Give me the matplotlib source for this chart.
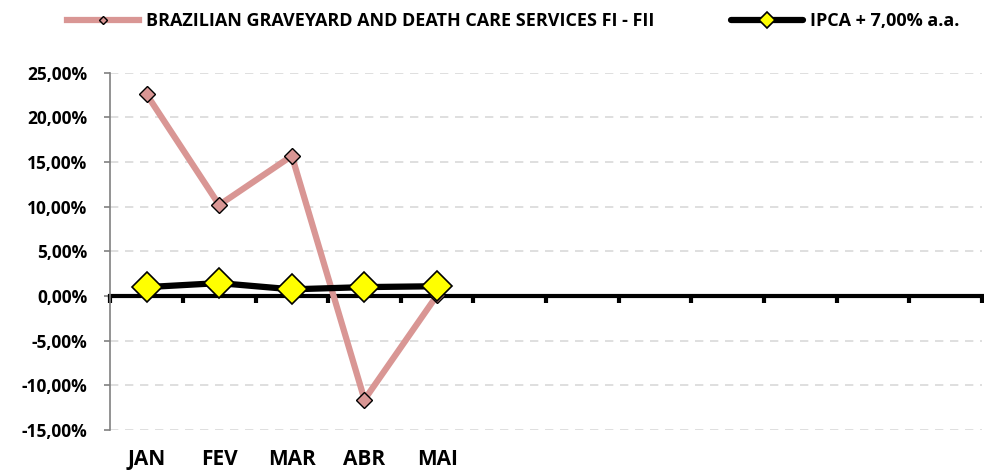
import numpy as np
import matplotlib.pyplot as plt
from matplotlib.ticker import FuncFormatter

plt.rcParams['font.family'] = ['Open Sans', 'DejaVu Sans']
plt.rcParams['font.weight'] = 'bold'

# data
months = ['JAN', 'FEV', 'MAR', 'ABR', 'MAI', '', '', '', '', '', '', '']
fund_name = 'BRAZILIAN GRAVEYARD AND DEATH CARE SERVICES FI - FII'
fund = [22.6, 10.2, 15.7, -11.6, 0.1]
bench_name = 'IPCA + 7,00% a.a.'
bench = [1.0, 1.45, 0.75, 1.0, 1.1]
yticks = [-15, -10, -5, 0, 5, 10, 15, 20, 25]

fig = plt.figure(figsize=(9.84, 4.73), dpi=100)
ax = fig.add_axes([0.112, 0.091, 0.886, 0.755])

x = np.arange(len(fund))
ax.plot(x, fund, color='#D99694', lw=4.5, marker='D', ms=8,
        mfc='#D99694', mec='black', mew=1.0, zorder=3, label=fund_name)
ax.plot(np.arange(len(bench)), bench, color='black', lw=4.5, marker='D', ms=15,
        mfc='#FFFF00', mec='black', mew=1.2, solid_capstyle='round',
        zorder=4, label=bench_name)

ax.set_xlim(-0.5, len(months) - 0.5)
ax.set_ylim(-15, 25)
ax.set_yticks(yticks)
ax.yaxis.set_major_formatter(FuncFormatter(lambda v, p: f'{v:.2f}%'.replace('.', ',')))
ax.grid(axis='y', color='#d9d9d9', ls=(0, (5, 4)), lw=1.2, zorder=0)
ax.set_axisbelow(True)

for s in ['top', 'right']:
    ax.spines[s].set_visible(False)
ax.spines['left'].set_color('#808080')
ax.spines['left'].set_linewidth(1.2)
ax.spines['bottom'].set_position(('data', 0))
ax.spines['bottom'].set_linewidth(3)
ax.spines['bottom'].set_zorder(2)

ax.tick_params(axis='y', colors='#808080', length=4, width=1.2, labelsize=12.5,
               labelcolor='black', pad=12.5)
ax.set_xticks(np.arange(-0.5, len(months)), labels=[])
ax.tick_params(axis='x', direction='out', length=5, width=3, colors='black')

tr = ax.get_xaxis_transform()
for i, m in enumerate(months):
    ax.text(i, -0.098, m, transform=tr, ha='center', va='baseline', fontsize=15,
            fontweight='bold')

fig.legend(loc='center left', bbox_to_anchor=(67 / 984, 1 - 21 / 473), ncol=2,
           frameon=False, borderpad=0, borderaxespad=0, fontsize=13,
           columnspacing=4.2, handlelength=4.0, handletextpad=0.4,
           markerscale=0.55)

fig.savefig('out.png', dpi=100)
